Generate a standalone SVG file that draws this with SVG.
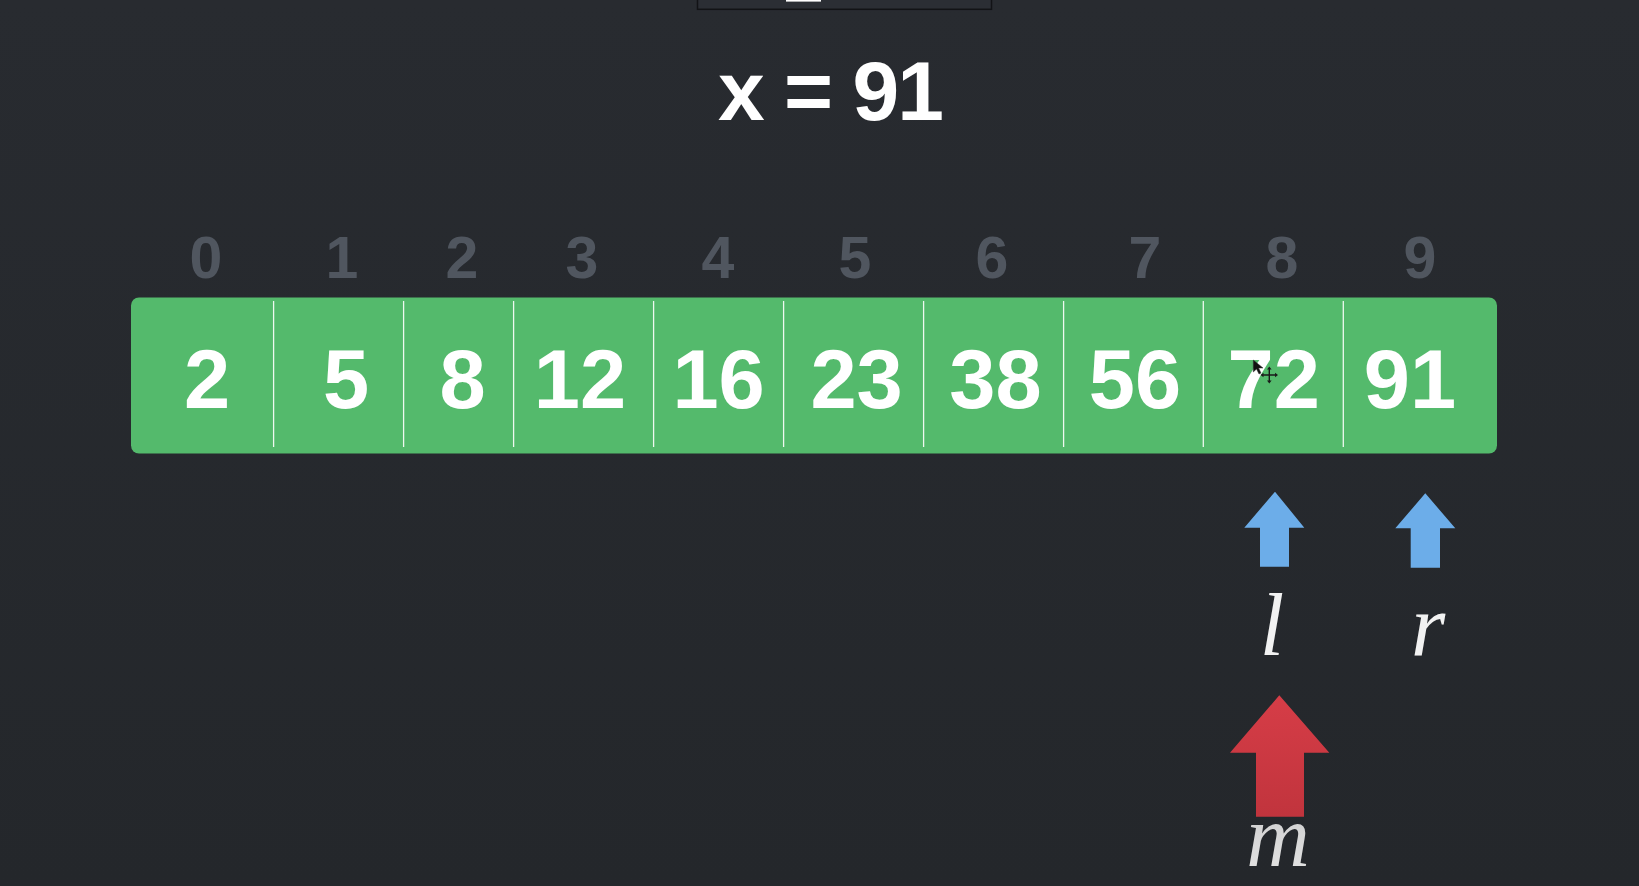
<svg xmlns="http://www.w3.org/2000/svg" width="1639" height="886" viewBox="0 0 1639 886">
<defs>
<linearGradient id="bg" x1="0" y1="0" x2="0" y2="1">
<stop offset="0" stop-color="#282b30"/>
<stop offset="1" stop-color="#24272b"/>
</linearGradient>
<linearGradient id="red" x1="0" y1="0" x2="0" y2="1">
<stop offset="0" stop-color="#d63d47"/>
<stop offset="1" stop-color="#c1343d"/>
</linearGradient>
<linearGradient id="mgrad" x1="0" y1="0" x2="0" y2="1">
<stop offset="0" stop-color="#c8c8c8"/>
<stop offset="1" stop-color="#e6e6e6"/>
</linearGradient>
<style>
.val{font-family:"Liberation Sans",Arial,sans-serif;font-weight:bold;font-size:83px;fill:#ffffff;text-anchor:middle}
.idx{font-family:"Liberation Sans",Arial,sans-serif;font-weight:bold;font-size:59px;fill:#50565f;text-anchor:middle}
.div{stroke:#ffffff;stroke-width:1.3;opacity:0.9}
.var{font-family:"Liberation Serif","Times New Roman",serif;font-style:italic;font-size:88px;fill:#f2f2f2;text-anchor:middle}
.blue{fill:#6cade9}
</style>
</defs>
<rect x="0" y="0" width="1639" height="886" fill="url(#bg)"/>
<g id="topbox">
<rect x="697.5" y="-5" width="294" height="14.3" fill="#2b2e34" stroke="#121316" stroke-width="1.5"/>
<rect x="786" y="0" width="35" height="1.6" fill="#ffffff"/>
</g>
<g id="title">
<text x="831" y="120" font-family="Liberation Sans, Arial, sans-serif" font-weight="bold" font-size="84" fill="#ffffff" text-anchor="middle" textLength="226" lengthAdjust="spacing">x = 91</text>
</g>
<g id="indices">
<text class="idx" x="206" y="278">0</text>
<text class="idx" x="342" y="278">1</text>
<text class="idx" x="462" y="278">2</text>
<text class="idx" x="582" y="278">3</text>
<text class="idx" x="718" y="278">4</text>
<text class="idx" x="855" y="278">5</text>
<text class="idx" x="992" y="278">6</text>
<text class="idx" x="1145" y="278">7</text>
<text class="idx" x="1282" y="278">8</text>
<text class="idx" x="1420" y="278">9</text>
</g>
<g id="array">
<rect x="131" y="297.5" width="1366" height="156" rx="8" fill="#54ba6c"/>
<line class="div" x1="273.6" y1="301" x2="273.6" y2="447"/>
<line class="div" x1="403.6" y1="301" x2="403.6" y2="447"/>
<line class="div" x1="513.6" y1="301" x2="513.6" y2="447"/>
<line class="div" x1="653.6" y1="301" x2="653.6" y2="447"/>
<line class="div" x1="783.6" y1="301" x2="783.6" y2="447"/>
<line class="div" x1="923.6" y1="301" x2="923.6" y2="447"/>
<line class="div" x1="1063.6" y1="301" x2="1063.6" y2="447"/>
<line class="div" x1="1203.3" y1="301" x2="1203.3" y2="447"/>
<line class="div" x1="1343.3" y1="301" x2="1343.3" y2="447"/>
<text class="val" x="207" y="408">2</text>
<text class="val" x="346" y="408">5</text>
<text class="val" x="462.5" y="408">8</text>
<text class="val" x="580" y="408">12</text>
<text class="val" x="718.6" y="408">16</text>
<text class="val" x="856.6" y="408">23</text>
<text class="val" x="995.4" y="408">38</text>
<text class="val" x="1135" y="408">56</text>
<text class="val" x="1273.7" y="408">72</text>
<text class="val" x="1410" y="408">91</text>
</g>
<g id="cursor">
<polygon points="1253.3,360 1253.3,372 1256.5,369 1259,374 1261,373 1258.6,368 1263,368" fill="#111111" stroke="#333" stroke-width="0.5"/>
<path d="M1262.5,375 H1276 M1269.3,368.5 V381.5" stroke="#1a1a1a" stroke-width="1.4"/>
<polygon points="1269.3,366.5 1267,369.5 1271.6,369.5" fill="#1a1a1a"/>
<polygon points="1269.3,383.5 1267,380.5 1271.6,380.5" fill="#1a1a1a"/>
<polygon points="1260.5,375 1263.5,372.7 1263.5,377.3" fill="#1a1a1a"/>
<polygon points="1278,375 1275,372.7 1275,377.3" fill="#1a1a1a"/>
</g>
<g id="pointer-l">
<polygon class="blue" points="1275,491.7 1304.3,527.7 1289,527.7 1289,566.7 1260,566.7 1260,527.7 1244.3,527.7"/>
<text class="var" x="1272" y="655">l</text>
</g>
<g id="pointer-r">
<polygon class="blue" points="1425.3,493.3 1455.3,528.3 1440,528.3 1440,567.7 1410.7,567.7 1410.7,528.3 1395.3,528.3"/>
<text class="var" x="1428" y="655">r</text>
</g>
<g id="pointer-m">
<polygon fill="url(#red)" points="1279.3,695.3 1329.3,752.7 1304,752.7 1304,816.7 1256,816.7 1256,752.7 1230,752.7"/>
<text class="var" x="1278" y="866" style="fill:url(#mgrad)">m</text>
</g>
</svg>
